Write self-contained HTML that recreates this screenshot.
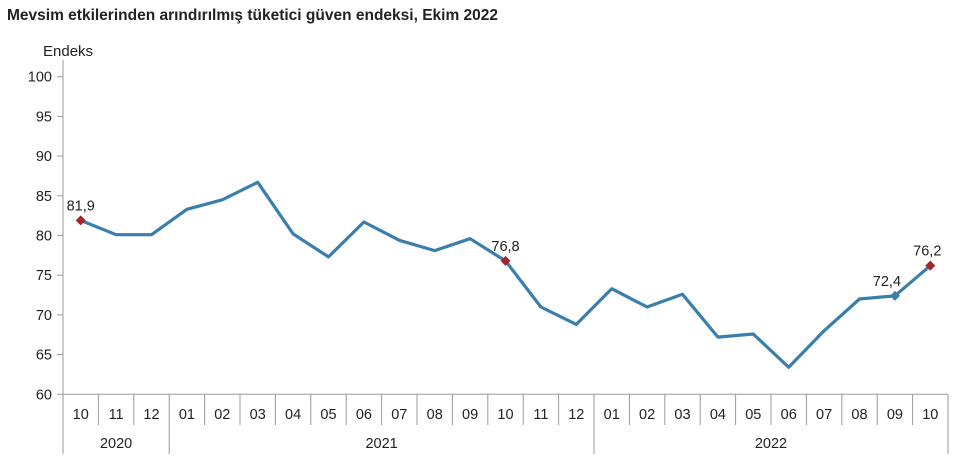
<!DOCTYPE html><html><head><meta charset="utf-8"><style>body{margin:0;background:#fff}svg{display:block;font-family:"Liberation Sans",Arial,sans-serif}</style></head><body>
<svg width="960" height="466" viewBox="0 0 960 466">
<text x="7" y="20" font-size="15.5" font-weight="bold" fill="#222">Mevsim etkilerinden arındırılmış tüketici güven endeksi, Ekim 2022</text>
<text x="43" y="56" font-size="15" fill="#222">Endeks</text>
<g id="g"></g>
</svg>
<script>
var s=document.getElementById('g'),h='';
var X0=63,W=35.4,Y0=394.3,K=7.94;
function y(v){return Y0-(v-60)*K}
h+='<line x1="'+X0+'" y1="60" x2="'+X0+'" y2="454" stroke="#999"/>';
h+='<line x1="'+X0+'" y1="'+Y0+'" x2="948" y2="'+Y0+'" stroke="#999"/>';
for(var v=60;v<=100;v+=5){var yy=y(v);h+='<line x1="57" y1="'+yy+'" x2="'+X0+'" y2="'+yy+'" stroke="#999"/><text x="52" y="'+(yy+5)+'" font-size="14.5" text-anchor="end" fill="#222">'+v+'</text>';}
var m=['10','11','12','01','02','03','04','05','06','07','08','09','10','11','12','01','02','03','04','05','06','07','08','09','10'];
for(var i=0;i<25;i++){var cx=X0+W*(i+.5);h+='<text x="'+cx+'" y="419" font-size="14.5" text-anchor="middle" fill="#222">'+m[i]+'</text>';
var ex=X0+W*(i+1);var big=(i==2||i==14||i==24);h+='<line x1="'+ex+'" y1="'+Y0+'" x2="'+ex+'" y2="'+(big?454:425)+'" stroke="#999"/>';}
h+='<text x="'+(X0+W*1.5)+'" y="448" font-size="14.5" text-anchor="middle" fill="#222">2020</text>';
h+='<text x="'+(X0+W*9)+'" y="448" font-size="14.5" text-anchor="middle" fill="#222">2021</text>';
h+='<text x="'+(X0+W*20)+'" y="448" font-size="14.5" text-anchor="middle" fill="#222">2022</text>';
var d=[81.9,80.1,80.1,83.3,84.5,86.7,80.2,77.3,81.7,79.4,78.1,79.6,76.8,71.0,68.8,73.3,71.0,72.6,67.2,67.6,63.4,68.0,72.0,72.4,76.2];
var p=d.map(function(v,i){return (X0+W*(i+.5)).toFixed(1)+','+y(v).toFixed(1)}).join(' ');
h+='<polyline points="'+p+'" fill="none" stroke="#3a7fab" stroke-width="3.2" stroke-linejoin="round"/>';
function dia(i,c){var cx=X0+W*(i+.5),cy=y(d[i]);return '<polygon points="'+cx+','+(cy-5)+' '+(cx+5)+','+cy+' '+cx+','+(cy+5)+' '+(cx-5)+','+cy+'" fill="'+c+'"/>';}
h+=dia(0,'#a3262b')+dia(12,'#a3262b')+dia(23,'#3a7fab')+dia(24,'#a3262b');
function lab(i,t){var cx=X0+W*(i+.5),cy=y(d[i]);h+='<text x="'+(cx+(i==24?-3:i==23?-8:0))+'" y="'+(cy-10)+'" font-size="14.5" text-anchor="middle" fill="#222">'+t+'</text>';}
lab(0,'81,9');lab(12,'76,8');lab(23,'72,4');lab(24,'76,2');
s.innerHTML=h;
</script>
</body></html>
